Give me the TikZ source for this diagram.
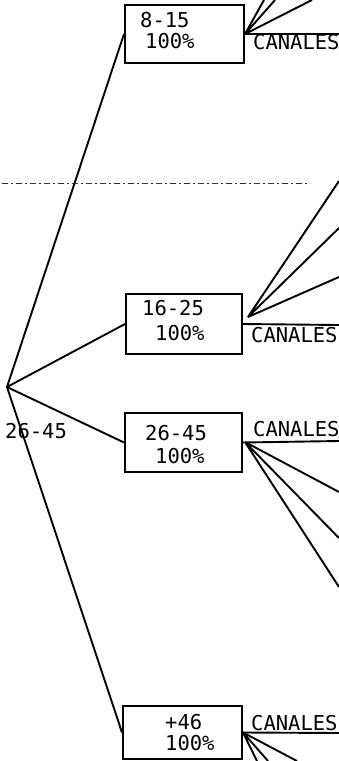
\documentclass[tikz,border=0pt]{standalone}
\usepackage{fontspec}
\newfontfamily\plotfont{DejaVu Sans Mono}
\begin{document}
\begin{tikzpicture}[x=1pt,y=-1pt,
  box/.style={draw, line width=2pt, inner sep=0pt},
  txt/.style={font=\plotfont\fontsize{20.5}{20.5}\selectfont, inner sep=0pt, anchor=base west},
  ln/.style={line width=1.9pt},
  fold/.style={line width=1pt, black!80, dash pattern=on 6pt off 3pt on 2pt off 3pt}]
\useasboundingbox (0,0) rectangle (339,761);
% boxes
\node[box, minimum width=119pt, minimum height=58pt] (b1) at (184.5,34) {};
\node[box, minimum width=116pt, minimum height=60pt] (b2) at (184,324) {};
\node[box, minimum width=117pt, minimum height=59pt] (b3) at (183.5,442.5) {};
\node[box, minimum width=119pt, minimum height=53pt] (b4) at (182.5,732.5) {};
% box texts
\node[txt] (t1a) at (140,27) {8-15};
\node[txt] (t1b) at (145,48) {100\%};
\node[txt] (t2a) at (142,315) {16-25};
\node[txt] (t2b) at (155,340) {100\%};
\node[txt] (t3a) at (145,440) {26-45};
\node[txt] (t3b) at (155,463) {100\%};
\node[txt] (t4a) at (165,729) {+46};
\node[txt] (t4b) at (165,750) {100\%};
% root
\coordinate (root) at (7,387);
\node[txt] (rl) at (5,438) {26-45};
\draw[ln] (root) -- (b1.west);
\draw[ln] (root) -- (b2.west);
\draw[ln] (root) -- (b3.west);
\draw[ln] (root) -- (b4.west);
% fold line
\coordinate (d0) at (2,183);
\coordinate (d1) at (310,183);
\draw[fold] (d0) -- (d1);
% CANALES lines and labels
\coordinate (c1) at (339,34);
\coordinate (c2) at (339,325);
\coordinate (c3) at (339,441);
\coordinate (c4) at (339,733);
\draw[ln] (b1.east) -- (c1);
\draw[ln] (b2.east) -- (c2);
\draw[ln] (b3.east) -- (c3);
\draw[ln] (b4.east) -- (c4);
\node[txt] (k1) at (253,49) {CANALES};
\node[txt] (k2) at (251,342) {CANALES};
\node[txt] (k3) at (253,436) {CANALES};
\node[txt] (k4) at (251,730) {CANALES};
% fans
\coordinate (a11) at (264,0);
\coordinate (a12) at (275,0);
\coordinate (a13) at (312,0);
\draw[ln] (b1.east) -- (a11) (b1.east) -- (a12) (b1.east) -- (a13);
\coordinate (f2) at (248,317);
\coordinate (a21) at (339,181);
\coordinate (a22) at (339,228);
\coordinate (a23) at (339,277);
\draw[ln] (f2) -- (a21) (f2) -- (a22) (f2) -- (a23);
\coordinate (f3) at (245,442);
\coordinate (a31) at (339,492);
\coordinate (a32) at (339,538);
\coordinate (a33) at (339,587);
\draw[ln] (f3) -- (a31) (f3) -- (a32) (f3) -- (a33);
\coordinate (a41) at (257,761);
\coordinate (a42) at (268,761);
\coordinate (a43) at (297,761);
\draw[ln] (b4.east) -- (a41) (b4.east) -- (a42) (b4.east) -- (a43);
\end{tikzpicture}
\end{document}
